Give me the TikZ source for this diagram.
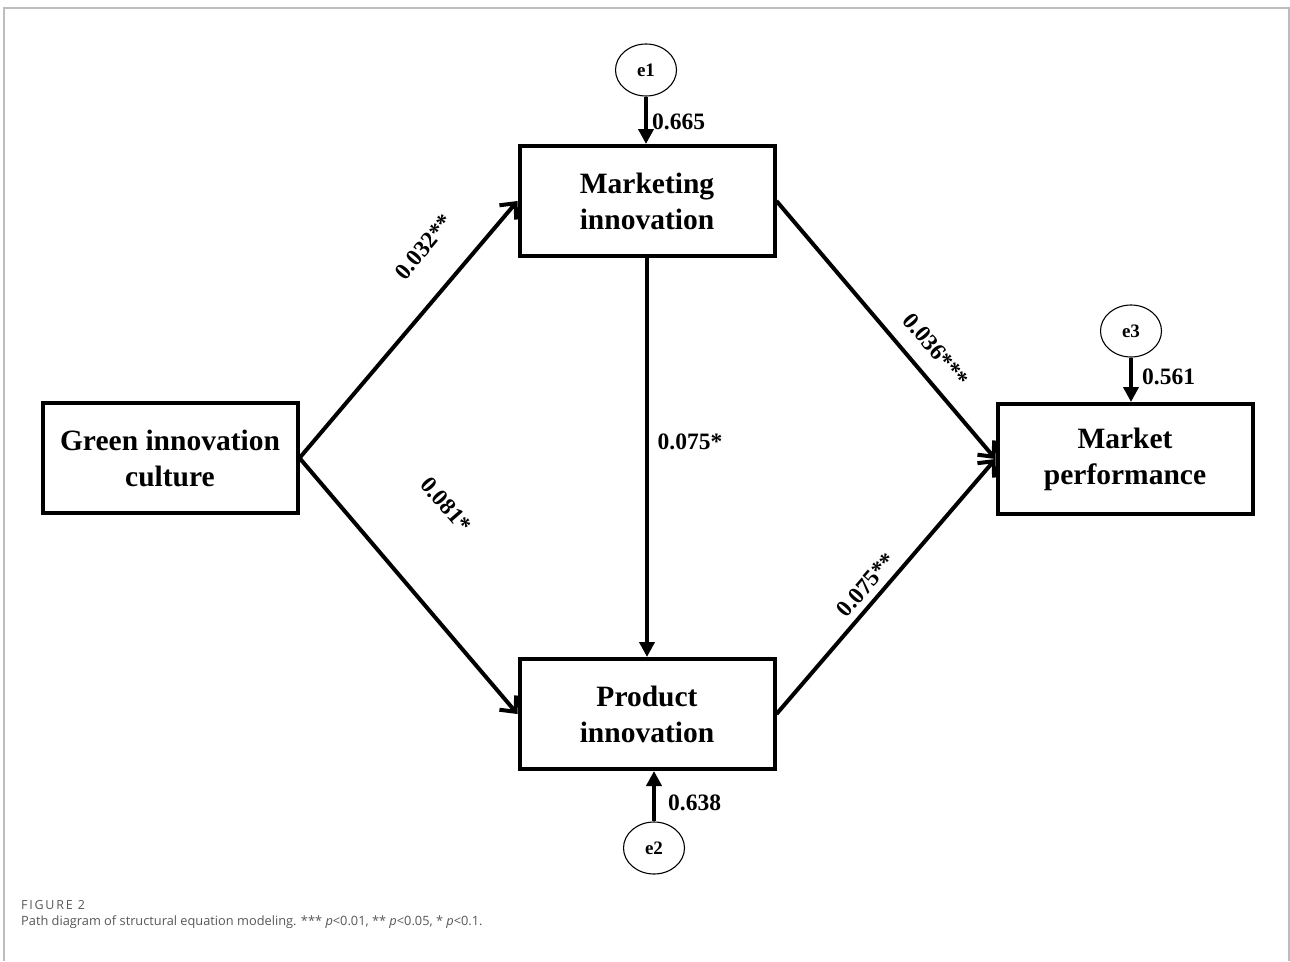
\documentclass[tikz,border=0pt]{standalone}
\usepackage{fontspec}
\setmainfont{Liberation Serif}
\newfontfamily\capfont{Open Sans}
\newfontfamily\figfont[LetterSpace=14]{Open Sans}
\usetikzlibrary{arrows.meta,shapes.geometric}
\definecolor{framegray}{HTML}{BDBDBD}
\definecolor{capgray}{HTML}{575757}
\begin{document}
\begin{tikzpicture}[x=1pt,y=-1pt,
  varbox/.style={draw, line width=4pt, rectangle, minimum width=255pt, minimum height=110pt,
    inner sep=0pt, align=center, font=\fontsize{29.5}{36}\selectfont\bfseries},
  errnode/.style={draw, line width=1.1pt, ellipse, minimum width=61pt, minimum height=52pt,
    inner sep=0pt, font=\fontsize{19}{22}\selectfont\bfseries},
  path/.style={line width=4pt, -{Straight Barb[length=12pt,width=22pt,line width=4pt]}},
  errpath/.style={line width=4.5pt, -{Triangle[length=15pt,width=15pt]}},
  coef/.style={inner sep=0pt, font=\fontsize{23.5}{26}\selectfont\bfseries}]
  \useasboundingbox (0,0) rectangle (1290,961);
  % page frame
  \draw[framegray, line width=2pt] (4,961) -- (4,8) -- (1289,8) -- (1289,961);

  % observed variables
  \node[varbox] (g) at (170,458) {Green innovation\\culture};
  \node[varbox] (m) at (647,201) {Marketing\\innovation};
  \node[varbox] (p) at (647,714) {Product\\innovation};
  \node[varbox] (r) at (1125,459) {Market\\performance};

  % error terms
  \node[errnode] (e1) at (646,70) {e1};
  \node[errnode] (e2) at (654,848) {e2};
  \node[errnode] (e3) at (1131,331) {e3};

  % structural paths
  \draw[path] (g.east) -- (m.west);
  \draw[path] (g.east) -- (p.west);
  \draw[path] (m.east) -- (r.west);
  \draw[path] (p.east) -- (r.west);
  \draw[errpath] (m.south) -- (p.north);

  % error paths
  \draw[errpath] (e1.south) -- (e1.south |- m.north);
  \draw[errpath] (e2.north) -- (e2.north |- p.south);
  \draw[errpath] (e3.south) -- (e3.south |- r.north);

  % coefficients
  \node[coef, rotate=50] (c1) at (424,247) {0.032**};
  \node[coef, rotate=-49] (c2) at (446,505) {0.081*};
  \node[coef, rotate=-50] (c3) at (936,350) {0.036***};
  \node[coef, rotate=49] (c4) at (866,585) {0.075**};
  \node[coef] (c5) at (690,442) {0.075*};
  \node[coef, anchor=west] (c6) at (652,122) {0.665};
  \node[coef, anchor=west] (c7) at (668,803) {0.638};
  \node[coef, anchor=west] (c8) at (1142,377) {0.561};

  % caption
  \node[anchor=base west, inner sep=0pt, text=capgray, font=\figfont\fontsize{12.5}{14}\selectfont] (fig) at (21,909) {FIGURE 2};
  \node[anchor=base west, inner sep=0pt, text=capgray, font=\capfont\fontsize{12.8}{15}\selectfont] (cap) at (21,925)
    {Path diagram of structural equation modeling. *** \textit{p}<0.01, ** \textit{p}<0.05, * \textit{p}<0.1.};
\end{tikzpicture}
\end{document}
